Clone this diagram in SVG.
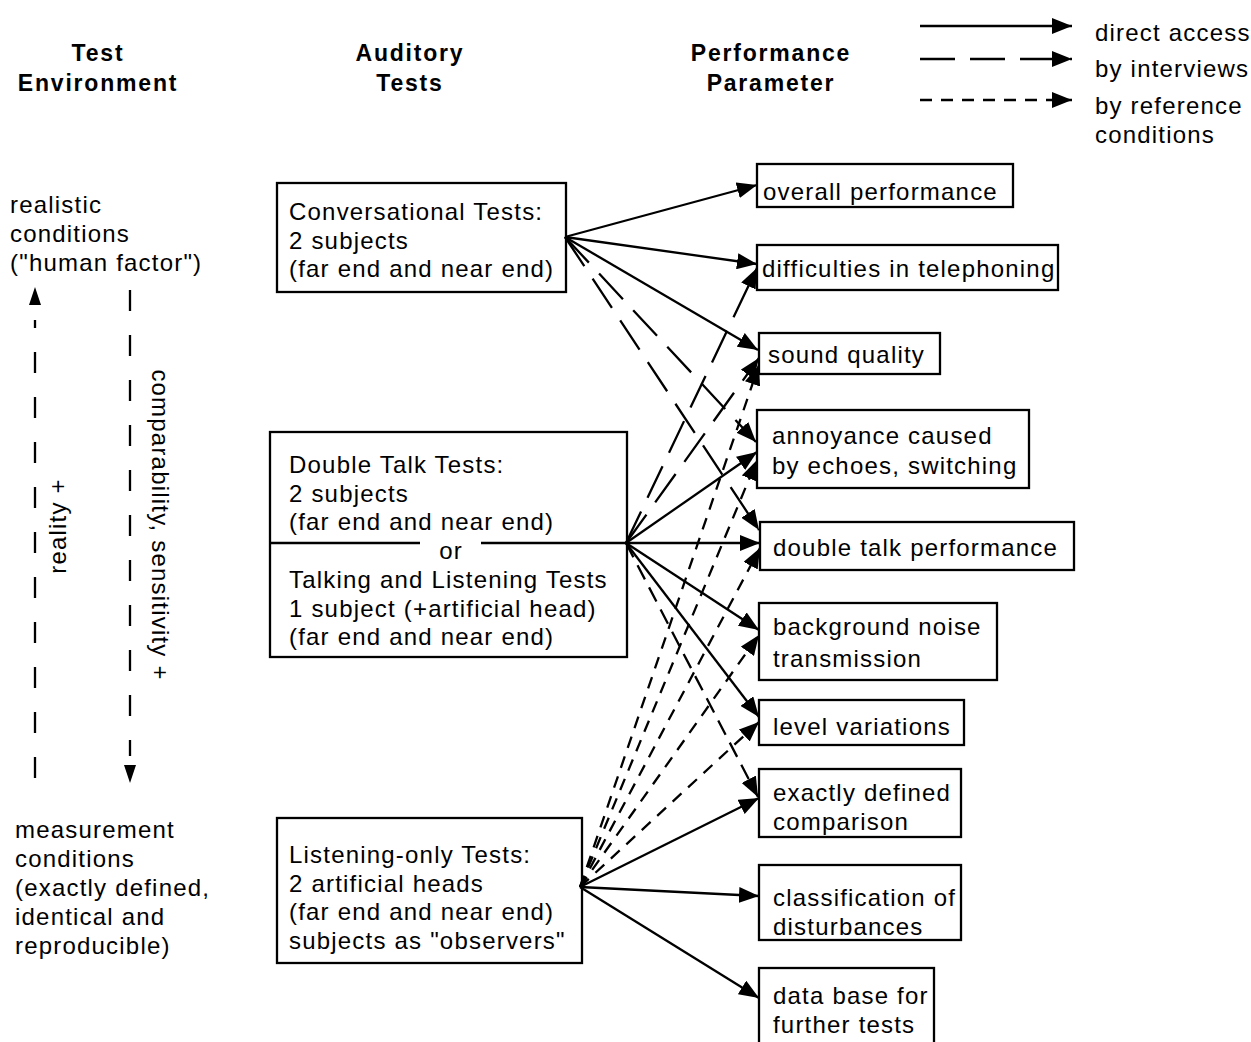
<svg xmlns="http://www.w3.org/2000/svg" width="1251" height="1042" viewBox="0 0 1251 1042">
<style>
.t{font-family:"Liberation Sans",Arial,sans-serif;font-size:24px;letter-spacing:1.2px;fill:#000}
.h{font-weight:bold;font-size:23px;letter-spacing:1.8px;text-anchor:middle}
.m{text-anchor:middle}
.box{fill:#fff;stroke:#000;stroke-width:2.3}
.c{stroke:#000;stroke-width:2.3;fill:none}
.long{stroke-dasharray:35 15}
.short{stroke-dasharray:12 9}
.med{stroke-dasharray:16 9}
.vd{stroke-dasharray:21 24}
</style>
<defs>
<marker id="ah" markerUnits="userSpaceOnUse" markerWidth="20" markerHeight="16" refX="20" refY="8" orient="auto">
<path d="M0,0 L20,8 L0,16 z" fill="#000"/>
</marker>
</defs>
<rect width="1251" height="1042" fill="#fff"/>

<g id="headers">
<text class="t h" x="98" y="61">Test</text>
<text class="t h" x="98" y="91">Environment</text>
<text class="t h" x="410" y="61">Auditory</text>
<text class="t h" x="410" y="91">Tests</text>
<text class="t h" x="771" y="61">Performance</text>
<text class="t h" x="771" y="91">Parameter</text>
</g>

<g id="legend">
<line class="c" x1="920" y1="26" x2="1072" y2="26" marker-end="url(#ah)"/>
<line class="c long" x1="920" y1="59" x2="1072" y2="59" marker-end="url(#ah)"/>
<line class="c short" x1="920" y1="100" x2="1072" y2="100" marker-end="url(#ah)"/>
<text class="t" x="1095" y="41">direct access</text>
<text class="t" x="1095" y="77">by interviews</text>
<text class="t" x="1095" y="114">by reference</text>
<text class="t" x="1095" y="143">conditions</text>
</g>

<g id="test-environment">
<text class="t" x="10" y="213">realistic</text>
<text class="t" x="10" y="242">conditions</text>
<text class="t" x="10" y="271">("human factor")</text>
<path d="M35,287 L41,305 L29,305 z" fill="#000"/>
<line class="c vd" x1="35" y1="778" x2="35" y2="320"/>
<line class="c vd" x1="130" y1="290" x2="130" y2="756"/>
<path d="M124,765 L136,765 L130,783 z" fill="#000"/>
<text class="t m" transform="translate(66,526) rotate(-90)">reality +</text>
<text class="t m" transform="translate(152,525) rotate(90)">comparability, sensitivity +</text>
<text class="t" x="15" y="838">measurement</text>
<text class="t" x="15" y="867">conditions</text>
<text class="t" x="15" y="896">(exactly defined,</text>
<text class="t" x="15" y="925">identical and</text>
<text class="t" x="15" y="954">reproducible)</text>
</g>

<g id="conversational">
<rect class="box" x="277" y="183" width="289" height="109"/>
<text class="t" x="289" y="220">Conversational Tests:</text>
<text class="t" x="289" y="249">2 subjects</text>
<text class="t" x="289" y="277">(far end and near end)</text>
</g>

<g id="doubletalk">
<rect class="box" x="270" y="432" width="357" height="225"/>
<line class="c" x1="270" y1="543" x2="420" y2="543"/>
<line class="c" x1="481" y1="543" x2="627" y2="543"/>
<text class="t" x="289" y="473">Double Talk Tests:</text>
<text class="t" x="289" y="502">2 subjects</text>
<text class="t" x="289" y="530">(far end and near end)</text>
<text class="t m" x="451" y="559">or</text>
<text class="t" x="289" y="588">Talking and Listening Tests</text>
<text class="t" x="289" y="617">1 subject (+artificial head)</text>
<text class="t" x="289" y="645">(far end and near end)</text>
</g>

<g id="listening">
<rect class="box" x="277" y="818" width="305" height="145"/>
<text class="t" x="289" y="863">Listening-only Tests:</text>
<text class="t" x="289" y="892">2 artificial heads</text>
<text class="t" x="289" y="920">(far end and near end)</text>
<text class="t" x="289" y="949">subjects as "observers"</text>
</g>

<g id="p-overall"><rect class="box" x="757" y="164" width="256" height="43"/><text class="t" x="763" y="200">overall performance</text></g>
<g id="p-difficulties"><rect class="box" x="757" y="245" width="301" height="45"/><text class="t" x="762" y="277">difficulties in telephoning</text></g>
<g id="p-sound"><rect class="box" x="759" y="333" width="181" height="41"/><text class="t" x="768" y="363">sound quality</text></g>
<g id="p-annoyance"><rect class="box" x="757" y="410" width="272" height="78"/><text class="t" x="772" y="444">annoyance caused</text><text class="t" x="772" y="474">by echoes, switching</text></g>
<g id="p-doubletalk"><rect class="box" x="760" y="522" width="314" height="48"/><text class="t" x="773" y="556">double talk performance</text></g>
<g id="p-noise"><rect class="box" x="759" y="603" width="238" height="77"/><text class="t" x="773" y="635">background noise</text><text class="t" x="773" y="667">transmission</text></g>
<g id="p-level"><rect class="box" x="759" y="700" width="205" height="45"/><text class="t" x="773" y="735">level variations</text></g>
<g id="p-exactly"><rect class="box" x="759" y="769" width="202" height="68"/><text class="t" x="773" y="801">exactly defined</text><text class="t" x="773" y="830">comparison</text></g>
<g id="p-classification"><rect class="box" x="759" y="865" width="202" height="75"/><text class="t" x="773" y="906">classification of</text><text class="t" x="773" y="935">disturbances</text></g>
<g id="p-database"><rect class="box" x="759" y="968" width="175" height="80"/><text class="t" x="773" y="1004">data base for</text><text class="t" x="773" y="1033">further tests</text></g>

<g id="connectors">
<line class="c" x1="565" y1="237" x2="757" y2="185" marker-end="url(#ah)"/>
<line class="c" x1="565" y1="237" x2="757" y2="264" marker-end="url(#ah)"/>
<line class="c" x1="565" y1="237" x2="758" y2="350" marker-end="url(#ah)"/>
<line class="c long" x1="565" y1="237" x2="756" y2="442" marker-end="url(#ah)"/>
<line class="c long" x1="565" y1="237" x2="759" y2="530" marker-end="url(#ah)"/>
<line class="c" x1="626" y1="543" x2="757" y2="452" marker-end="url(#ah)"/>
<line class="c" x1="626" y1="543" x2="760" y2="543" marker-end="url(#ah)"/>
<line class="c" x1="626" y1="543" x2="759" y2="630" marker-end="url(#ah)"/>
<line class="c" x1="626" y1="543" x2="759" y2="717" marker-end="url(#ah)"/>
<line class="c long" x1="626" y1="543" x2="757" y2="268" marker-end="url(#ah)"/>
<line class="c long" x1="626" y1="543" x2="759" y2="358" marker-end="url(#ah)"/>
<line class="c med" x1="626" y1="543" x2="758" y2="797" marker-end="url(#ah)"/>
<line class="c" x1="580" y1="887" x2="759" y2="798" marker-end="url(#ah)"/>
<line class="c" x1="580" y1="887" x2="759" y2="896" marker-end="url(#ah)"/>
<line class="c" x1="580" y1="887" x2="759" y2="998" marker-end="url(#ah)"/>
<line class="c short" x1="580" y1="887" x2="759" y2="365" marker-end="url(#ah)"/>
<line class="c short" x1="580" y1="887" x2="757" y2="460" marker-end="url(#ah)"/>
<line class="c short" x1="580" y1="887" x2="760" y2="548" marker-end="url(#ah)"/>
<line class="c short" x1="580" y1="887" x2="759" y2="635" marker-end="url(#ah)"/>
<line class="c short" x1="580" y1="887" x2="759" y2="722" marker-end="url(#ah)"/>
</g>
</svg>
